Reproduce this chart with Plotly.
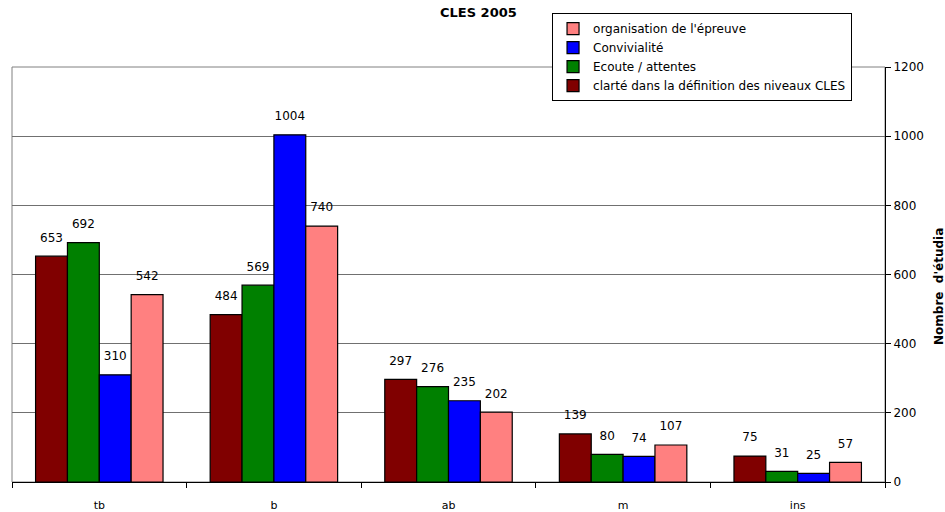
import plotly.graph_objects as go

categories = ["tb", "b", "ab", "m", "ins"]
clarte = [653, 484, 297, 139, 75]
ecoute = [692, 569, 276, 80, 31]
convivialite = [310, 1004, 235, 74, 25]
organisation = [542, 740, 202, 107, 57]

series = [
    ("clarté dans la définition des niveaux CLES", clarte, "#800000"),
    ("Ecoute / attentes", ecoute, "#008000"),
    ("Convivialité", convivialite, "#0000FF"),
    ("organisation de l'épreuve", organisation, "#FF8080"),
]

FONT = "DejaVu Sans"

fig = go.Figure()
for i, (name, vals, col) in enumerate(series):
    fig.add_trace(go.Bar(
        x=categories, y=vals, name=name, offsetgroup=str(i),
        marker=dict(color=col, line=dict(color="black", width=1.2)),
    ))
for i, (name, vals, col) in enumerate(series):
    fig.add_trace(go.Scatter(
        x=categories, y=vals, offsetgroup=str(i), mode="markers+text",
        marker=dict(size=17, opacity=0), text=[str(v) for v in vals],
        textposition="top center", showlegend=False, hoverinfo="skip",
        textfont=dict(size=12, color="black", family=FONT), cliponaxis=False,
    ))

fig.update_layout(
    width=945, height=512,
    margin=dict(l=12, r=60, t=67, b=30),
    paper_bgcolor="white", plot_bgcolor="white",
    barmode="group", scattermode="group", bargap=0.27, bargroupgap=0,
    font=dict(family=FONT, size=11, color="black"),
    legend=dict(traceorder="reversed", x=0.6186, y=1.13, xanchor="left", yanchor="top",
                bgcolor="white", bordercolor="black", borderwidth=1,
                font=dict(size=12, family=FONT)),
    showlegend=True,
    annotations=[
        dict(text="<b>CLES 2005</b>", xref="paper", yref="paper",
             x=0.5338, y=1.0, yshift=55, xanchor="center", yanchor="middle",
             showarrow=False, font=dict(size=13, family=FONT)),
        dict(text="<b>Nombre  d'étudia</b>", xref="paper", yref="paper",
             x=1.0, xshift=54, y=0.47, xanchor="center", yanchor="middle",
             textangle=-90, showarrow=False, font=dict(size=12, family=FONT)),
    ],
)
fig.update_xaxes(showline=True, linecolor="black", linewidth=1, ticks="outside",
                 tickson="boundaries", ticklen=5, tickcolor="black",
                 showgrid=False, tickfont=dict(size=11), automargin=False,
                 ticklabelstandoff=13)
fig.update_yaxes(side="right", range=[0, 1200], dtick=200, showline=True, linecolor="black",
                 linewidth=1, ticks="outside", ticklen=5, tickcolor="black",
                 showgrid=True, gridcolor="#707070", gridwidth=1, zeroline=False,
                 tickfont=dict(size=12), automargin=False)
fig.add_shape(type="rect", xref="paper", yref="paper", x0=0, x1=1, y0=0, y1=1,
              line=dict(color="#808080", width=1), layer="below")
fig.write_html("out.html", config={"displayModeBar": False},
               post_script="document.body.style.margin='0';document.body.style.overflow='hidden';")
